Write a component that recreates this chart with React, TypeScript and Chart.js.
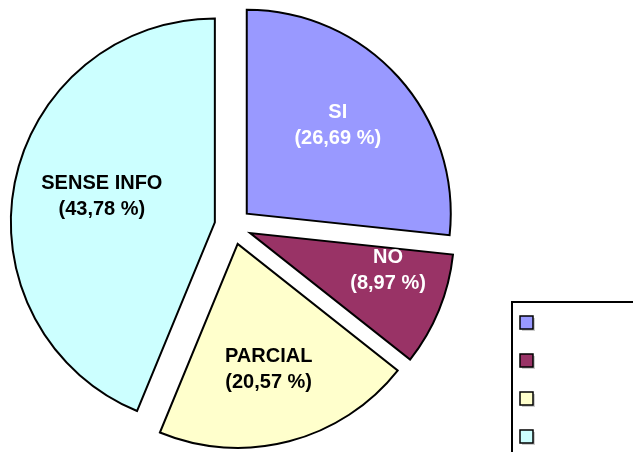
import React, { useEffect, useRef } from "react";
import { Chart, registerables } from "chart.js";

Chart.register(...registerables);

const categories = ["SI", "NO", "PARCIAL", "SENSE INFO"];
const percentages = [26.69, 8.97, 20.57, 43.78];
const percentLabels = ["(26,69 %)", "(8,97 %)", "(20,57 %)", "(43,78 %)"];

const sliceColors = ["#9999FF", "#993366", "#FFFFCC", "#CCFFFF"];
const labelColors = ["#FFFFFF", "#FFFFFF", "#000000", "#000000"];
// label anchor relative to each exploded slice centre, as a fraction of the radius
const labelDX = [0.446, 0.676, 0.152, -0.554];
const labelDY = [-0.43, 0.186, 0.618, -0.125];
const EXPLODE = 18.5;
const RADIUS = 204;
const FONT = '"Liberation Sans", Arial, sans-serif';

const explodePlugin = {
  id: "explodeSlices",
  beforeDatasetsDraw(chart: any) {
    const meta = chart.getDatasetMeta(0);
    const { left, right, top, bottom } = chart.chartArea;
    const cx = (left + right) / 2;
    const cy = (top + bottom) / 2;
    meta.data.forEach((arc: any) => {
      const mid = (arc.startAngle + arc.endAngle) / 2;
      arc.x = cx + Math.cos(mid) * EXPLODE;
      arc.y = cy + Math.sin(mid) * EXPLODE;
    });
  },
};

const labelPlugin = {
  id: "sliceLabels",
  afterDatasetsDraw(chart: any) {
    const ctx = chart.ctx;
    const meta = chart.getDatasetMeta(0);
    ctx.save();
    ctx.font = `bold 20px ${FONT}`;
    ctx.textAlign = "center";
    ctx.textBaseline = "middle";
    meta.data.forEach((arc: any, i: number) => {
      const r = arc.outerRadius;
      const x = arc.x + labelDX[i] * r;
      const y = arc.y + labelDY[i] * r;
      ctx.fillStyle = labelColors[i];
      ctx.fillText(categories[i], x, y - 13);
      ctx.fillText(percentLabels[i], x, y + 13);
    });
    ctx.restore();
  },
};

const legendPlugin = {
  id: "boxLegend",
  afterDraw(chart: any) {
    const ctx = chart.ctx;
    const W = chart.width;
    const H = chart.height;
    const bx = 512;
    const by = 302;
    ctx.save();
    ctx.fillStyle = "#FFFFFF";
    ctx.fillRect(bx, by, W - bx, H - by);
    ctx.strokeStyle = "#000000";
    ctx.lineWidth = 2;
    ctx.beginPath();
    ctx.moveTo(bx, H);
    ctx.lineTo(bx, by);
    ctx.lineTo(W, by);
    ctx.stroke();
    categories.forEach((_, i) => {
      const sx = 520;
      const sy = 316 + i * 38;
      ctx.fillStyle = "rgba(0,0,0,0.2)";
      ctx.fillRect(sx + 2, sy + 2, 13, 13);
      ctx.fillStyle = sliceColors[i];
      ctx.fillRect(sx, sy, 13, 13);
      ctx.lineWidth = 1.5;
      ctx.strokeStyle = "#000000";
      ctx.strokeRect(sx, sy, 13, 13);
    });
    ctx.restore();
  },
};

export default function App() {
  const canvasRef = useRef<HTMLCanvasElement | null>(null);

  useEffect(() => {
    if (!canvasRef.current) return;
    const chart = new Chart(canvasRef.current, {
      type: "pie",
      data: {
        labels: categories,
        datasets: [
          {
            data: percentages,
            backgroundColor: sliceColors,
            borderColor: "#000000",
            borderWidth: 2,
            borderJoinStyle: "miter",
            radius: RADIUS,
          } as any,
        ],
      },
      options: {
        animation: false,
        responsive: false,
        devicePixelRatio: 1,
        layout: { padding: { left: 20, right: 187, top: 20, bottom: 20 } },
        plugins: {
          legend: { display: false },
          tooltip: { enabled: false },
        },
      } as any,
      plugins: [explodePlugin, labelPlugin, legendPlugin],
    });
    return () => chart.destroy();
  }, []);

  return (
    <div style={{ position: "absolute", left: 0, top: 0, width: 633, height: 452, background: "#FFFFFF" }}>
      <canvas ref={canvasRef} width={633} height={452} style={{ display: "block" }} />
    </div>
  );
}
